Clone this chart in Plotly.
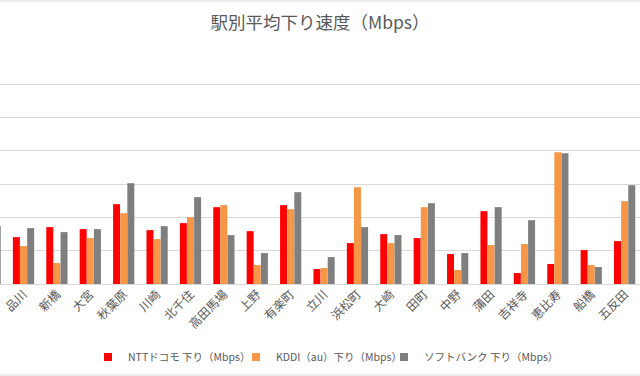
import plotly.graph_objects as go

stations = ["横浜", "品川", "新橋", "大宮", "秋葉原", "川崎", "北千住", "高田馬場", "上野", "有楽町",
            "立川", "浜松町", "大崎", "田町", "中野", "蒲田", "吉祥寺", "恵比寿", "船橋", "五反田", "西船橋"]
docomo = [15.0, 14.1, 17.1, 16.5, 24.0, 16.2, 18.3, 23.1, 15.9, 23.7,
          4.5, 12.3, 15.0, 13.8, 9.0, 21.9, 3.3, 6.0, 10.2, 12.9, 14.0]
kddi = [12.0, 11.4, 6.3, 13.8, 21.3, 13.5, 20.1, 23.7, 5.7, 22.5,
        4.8, 29.1, 12.3, 23.1, 4.2, 11.7, 12.0, 39.6, 5.7, 24.9, 12.0]
softbank = [17.4, 16.8, 15.6, 16.5, 30.3, 17.4, 26.1, 14.7, 9.3, 27.6,
            8.1, 17.1, 14.7, 24.3, 9.3, 23.1, 19.2, 39.3, 5.1, 29.7, 18.0]
series_names = ["NTTドコモ 下り（Mbps）", "KDDI（au）下り（Mbps）", "ソフトバンク 下り（Mbps）"]
colors = ["#FF0000", "#F79646", "#7F7F7F"]
title_text = "駅別平均下り速度（Mbps）"

FONT = "Noto Sans CJK JP"
W, H = 640, 376
legend_ids = ["legend", "legend2", "legend3"]
legend_left_px = [88, 236, 384]

fig = go.Figure()
for name, vals, col in zip(series_names, [docomo, kddi, softbank], colors):
    fig.add_trace(go.Bar(x=list(range(len(stations))), y=vals, name=name, marker_color=col,
                         marker_line_width=0, showlegend=False, legendgroup=name))
# legend entries with small square swatches
for name, col, lid in zip(series_names, colors, legend_ids):
    fig.add_trace(go.Scatter(x=[None], y=[None], mode="markers", name=name, legendgroup=name,
                             legend=lid, marker=dict(symbol="square", size=8, color=col)))

legend_common = dict(orientation="h", xanchor="left", y=(284 - 357) / 233, yanchor="middle",
                     font=dict(family=FONT, size=10.5, color="#595959"), itemwidth=30,
                     bgcolor="rgba(0,0,0,0)")
legends = {lid: dict(x=px / W, **legend_common) for lid, px in zip(legend_ids, legend_left_px)}

fig.update_layout(
    width=W, height=H,
    margin=dict(l=0, r=0, t=51, b=92, autoexpand=False),
    paper_bgcolor="white", plot_bgcolor="white",
    barmode="group", bargap=0.36, bargroupgap=0.02,
    font=dict(family=FONT, color="#595959", size=12),
    title=dict(text=title_text, x=0.5, xanchor="center", y=1 - 22.5 / H, yanchor="middle",
               font=dict(family=FONT, size=17.5, color="#595959")),
    showlegend=True,
    **legends,
)
fig.update_xaxes(
    tickmode="array", tickvals=list(range(len(stations))), ticktext=stations,
    range=[0.296, 19.46], tickangle=-45, showgrid=False, showline=False, ticks="",
    tickfont=dict(family=FONT, size=12, color="#595959"), automargin=False,
)
fig.update_yaxes(
    range=[0, 70.05], tickvals=[10, 20, 30, 40, 50, 60, 70], showticklabels=False,
    showgrid=True, gridcolor="#D9D9D9",
    gridwidth=1, zeroline=True, zerolinecolor="#D9D9D9", zerolinewidth=1, showline=False,
    automargin=False,
)
# outer chart border (top & bottom visible in crop)
for py in [(284 - 1) / 233, (284 - 375) / 233]:
    fig.add_shape(type="line", xref="paper", yref="paper", x0=0, x1=1, y0=py, y1=py,
                  line=dict(color="#D9D9D9", width=1))

fig.write_html("out.html", config={"displayModeBar": False},
               post_script="document.body.style.margin='0';document.body.style.overflow='hidden';")
